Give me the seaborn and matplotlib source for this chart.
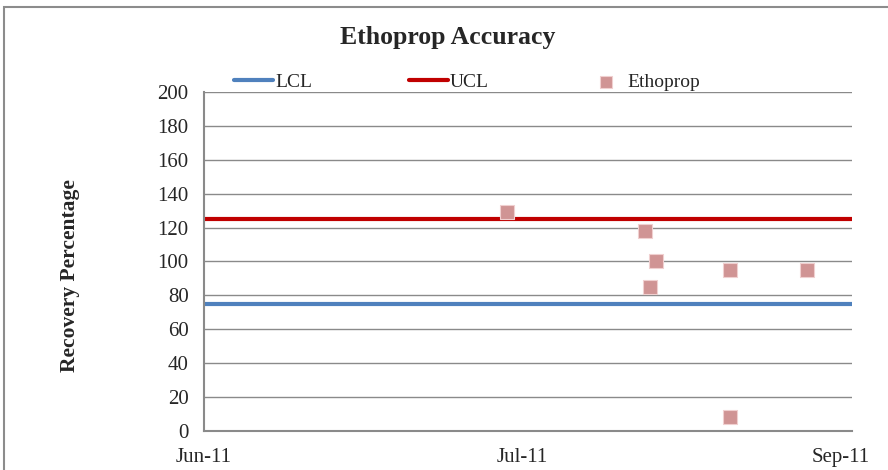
import pandas as pd
import matplotlib
matplotlib.use("Agg")
import matplotlib.pyplot as plt
import matplotlib.dates as mdates
from matplotlib.patches import Rectangle
import seaborn as sns

# Sample dates and recovery values for Ethoprop
sample_dates = ["2011-07-14 19:00", "2011-08-03 17:00", "2011-08-04 12:00",
                "2011-08-05 07:00", "2011-08-16 00:00", "2011-08-16 00:00",
                "2011-08-27 05:00"]
recovery = [129, 118, 85, 100, 95, 8, 95]

# Control limits
lcl = 75
ucl = 125

# Axis ticks and limits
tick_dates = ["2011-06-01", "2011-07-17", "2011-09-01"]
x_start = "2011-06-01"
x_end = "2011-09-02 17:00"

df = pd.DataFrame({"date": pd.to_datetime(sample_dates), "recovery": recovery})

sns.set_style("white")
plt.rcParams['font.family'] = ['Liberation Serif', 'DejaVu Serif']

fig = plt.figure(figsize=(8.88, 4.70), dpi=100)
ax = fig.add_axes([0.2297, 0.083, 0.7298, 0.7213])

# Outer chart border (only top and left edges visible)
fig.patches.append(Rectangle((0.004, -0.5), 2.0, 0.5 + 0.986, transform=fig.transFigure,
                             fill=False, edgecolor="#8c8c8c", linewidth=1.5))

# Horizontal grid lines
ax.set_ylim(0, 200)
ax.set_yticks(range(0, 201, 20))
ax.yaxis.grid(True, color="#8a8a8a", linewidth=1)
ax.set_axisbelow(True)

# Control limit lines
l1 = ax.axhline(lcl, color="#4F81BD", linewidth=3, label="LCL")
l2 = ax.axhline(ucl, color="#C00000", linewidth=3, label="UCL")

# Ethoprop points
sns.scatterplot(data=df, x="date", y="recovery", ax=ax, marker="s", s=110,
                color="#D09494", edgecolor="#f0d0d0", linewidth=0.8,
                label="Ethoprop", legend=False, zorder=3)
pts = ax.collections[-1]

ax.set_xlim(pd.Timestamp(x_start), pd.Timestamp(x_end))
ax.set_xticks(pd.to_datetime(tick_dates))
ax.xaxis.set_major_formatter(mdates.DateFormatter("%b-%y"))

for side in ["top", "right"]:
    ax.spines[side].set_visible(False)
for side in ["left", "bottom"]:
    ax.spines[side].set_color("#8a8a8a")
    ax.spines[side].set_linewidth(1.5)

ax.tick_params(axis="both", which="major", direction="out", length=5, width=1,
               color="#8a8a8a", labelsize=15, pad=6)
ax.tick_params(axis="x", pad=7)

ax.set_xlabel("")
ax.set_ylabel("Recovery Percentage", fontsize=15.5, fontweight="bold")
ax.yaxis.set_label_coords(-0.207, 0.457)
ax.yaxis.label.set_va("center")

fig.text(0.504, 0.921, "Ethoprop Accuracy", ha="center", va="center",
         fontsize=18.5, fontweight="bold")

ax.legend([l1, l2, pts], ["LCL", "UCL", "Ethoprop"], ncol=3, frameon=False,
          loc="center", bbox_to_anchor=(0.406, 1.03), fontsize=14,
          handlelength=2.0, columnspacing=5.0, handletextpad=0.1,
          markerscale=0.8, borderaxespad=0)

fig.savefig("out.png", dpi=100)
